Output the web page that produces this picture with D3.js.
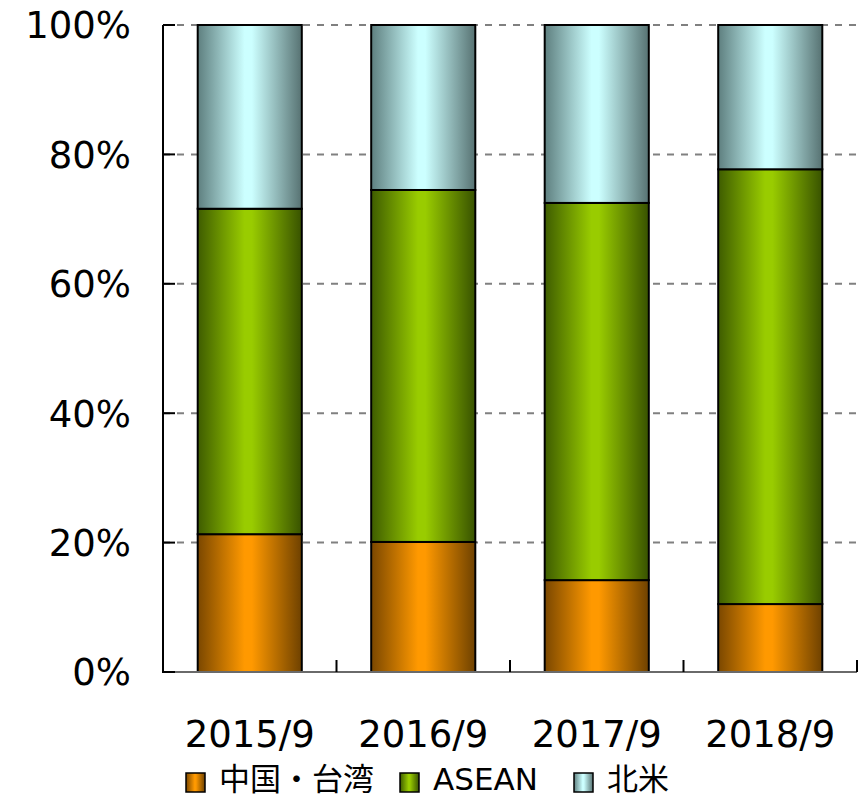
<!DOCTYPE html>
<html>
<head>
<meta charset="utf-8">
<script src="https://cdn.jsdelivr.net/npm/d3@7/dist/d3.min.js"></script>
<style>
  html, body { margin: 0; padding: 0; background: #fff; }
  svg { display: block; }
  text { font-family: "DejaVu Sans", "Noto Sans CJK JP", Verdana, sans-serif; fill: #000; }
</style>
</head>
<body>
<svg id="chart" width="858" height="798"></svg>
<script>
const categories = ["2015/9", "2016/9", "2017/9", "2018/9"];
const seriesNames = ["中国・台湾", "ASEAN", "北米"];
const chinaTaiwan = [21.3, 20.1, 14.2, 10.5];
const asean = [50.3, 54.4, 58.3, 67.2];
const northAmerica = [28.4, 25.5, 27.5, 22.3];
const yTicks = [0, 20, 40, 60, 80, 100];
const yTickLabels = ["0%", "20%", "40%", "60%", "80%", "100%"];

(function () {
const seriesValues = [chinaTaiwan, asean, northAmerica];
const colors = [
  { dark: "#7a4700", mid: "#ff9900", darkR: "#6e4100" },
  { dark: "#3e5c00", mid: "#99cc00", darkR: "#385200" },
  { dark: "#5e7f7f", mid: "#ccffff", darkR: "#577272" }
];

const svg = d3.select("#chart");
const pLeft = 163, pRight = 857, pTop = 25, pBottom = 672;

const x = d3.scaleBand().domain(categories).range([pLeft, pRight]).paddingInner(0.4).paddingOuter(0.2);
const y = d3.scaleLinear().domain([0, 100]).range([pBottom, pTop]);

const defs = svg.append("defs");
colors.forEach((c, i) => {
  const g = defs.append("linearGradient").attr("id", "grad" + i)
    .attr("x1", "0%").attr("x2", "100%").attr("y1", "0%").attr("y2", "0%");
  g.append("stop").attr("offset", "0%").attr("stop-color", c.dark);
  g.append("stop").attr("offset", "45%").attr("stop-color", c.mid);
  g.append("stop").attr("offset", "52%").attr("stop-color", c.mid);
  g.append("stop").attr("offset", "100%").attr("stop-color", c.darkR);
});

// gridlines
svg.append("g").selectAll("line").data(yTicks.filter(d => d > 0)).join("line")
  .attr("x1", pLeft).attr("x2", pRight)
  .attr("y1", d => y(d)).attr("y2", d => y(d))
  .attr("stroke", "#808080").attr("stroke-width", 2)
  .attr("stroke-dasharray", "7,7");

// stacked data
const table = categories.map((c, i) => {
  const o = { cat: c };
  seriesNames.forEach((s, j) => o[s] = seriesValues[j][i]);
  return o;
});
const stacked = d3.stack().keys(seriesNames)(table);

svg.append("g").selectAll("g").data(stacked).join("g")
  .attr("fill", (d, i) => "url(#grad" + i + ")")
  .selectAll("rect").data(d => d).join("rect")
  .attr("x", d => x(d.data.cat))
  .attr("width", x.bandwidth())
  .attr("y", d => y(d[1]))
  .attr("height", d => y(d[0]) - y(d[1]))
  .attr("stroke", "#000").attr("stroke-width", 2);

// x axis line (gray) and ticks
svg.append("line").attr("x1", pLeft).attr("x2", pRight).attr("y1", pBottom).attr("y2", pBottom)
  .attr("stroke", "#6a6a6a").attr("stroke-width", 2);
const xBounds = categories.map(c => x(c) - x.step() * x.paddingInner() / 2).concat([pRight]);
svg.append("g").selectAll("line").data(xBounds).join("line")
  .attr("x1", d => d).attr("x2", d => d)
  .attr("y1", pBottom).attr("y2", pBottom - 12)
  .attr("stroke", "#000").attr("stroke-width", 2);

// y axis
svg.append("line").attr("x1", pLeft).attr("x2", pLeft).attr("y1", pTop).attr("y2", pBottom + 1)
  .attr("stroke", "#000").attr("stroke-width", 2);
svg.append("g").selectAll("line").data(yTicks).join("line")
  .attr("x1", pLeft).attr("x2", pLeft + 12)
  .attr("y1", d => y(d)).attr("y2", d => y(d))
  .attr("stroke", "#000").attr("stroke-width", 2);
svg.append("g").selectAll("text").data(yTicks).join("text")
  .attr("x", pLeft - 32).attr("y", d => y(d))
  .attr("dy", "0.36em")
  .attr("text-anchor", "end")
  .attr("font-size", 37)
  .text((d, i) => yTickLabels[i]);

// x labels
svg.append("g").selectAll("text").data(categories).join("text")
  .attr("x", d => x(d) + x.bandwidth() / 2)
  .attr("y", 747)
  .attr("text-anchor", "middle")
  .attr("font-size", 37)
  .text(d => d);

// legend
const legendX = [186, 400, 574];
const lg = svg.append("g");
seriesNames.forEach((s, i) => {
  lg.append("rect").attr("x", legendX[i]).attr("y", 773).attr("width", 19).attr("height", 19)
    .attr("fill", "url(#grad" + i + ")").attr("stroke", "#000").attr("stroke-width", 1.5);
  lg.append("text").attr("x", legendX[i] + 33).attr("y", 790)
    .attr("font-size", 31)
    .text(s);
});
})();
</script>
</body>
</html>
